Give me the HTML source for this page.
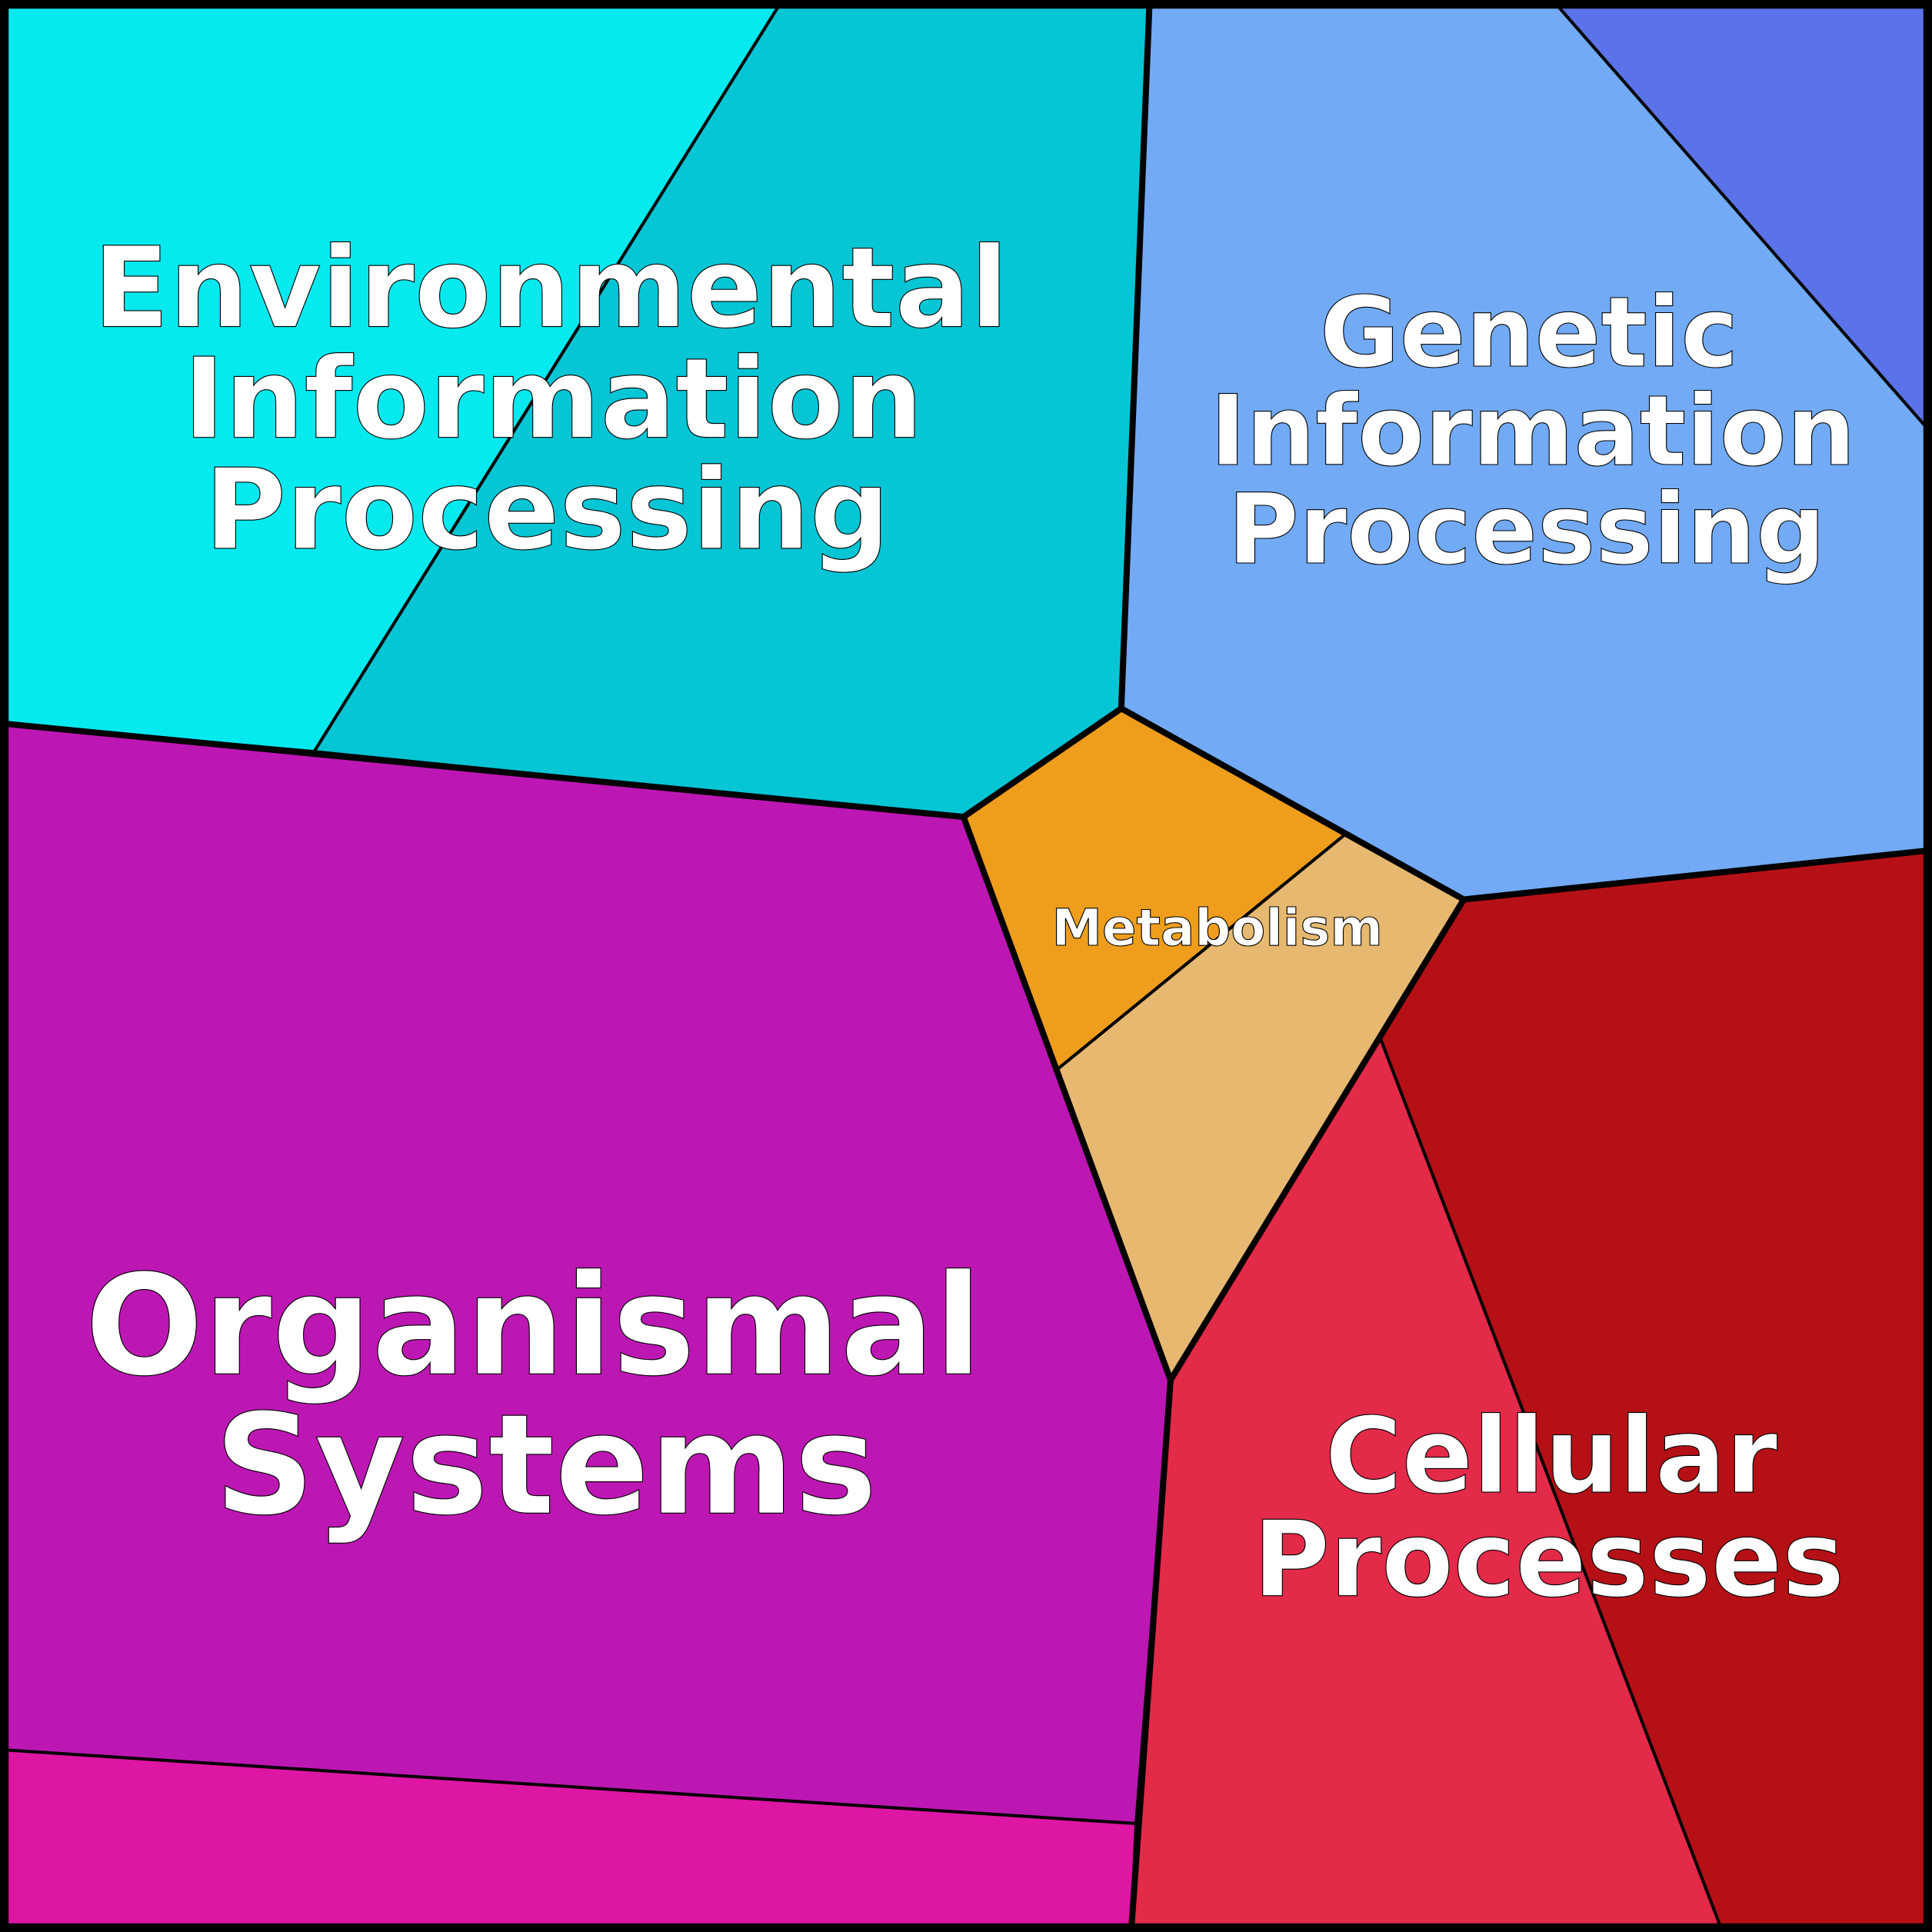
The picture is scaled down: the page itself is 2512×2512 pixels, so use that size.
<!DOCTYPE html>
<html><head><style>html,body{margin:0;padding:0;background:#000}svg{display:block}</style></head>
<body>
<svg width="2512" height="2512" viewBox="0 0 1568 1568" xmlns="http://www.w3.org/2000/svg">
<g stroke="#000" stroke-width="2.5" stroke-linejoin="round">
<polygon fill="#06E9EE" points="0,0 635,0 255,610 0,587"/>
<polygon fill="#06C5D4" points="635,0 933,0 910,575 782,663 255,610"/>
<polygon fill="#72AAF5" points="933,0 1260,0 1568,352 1568,690 1188,730 910,575"/>
<polygon fill="#5B73E8" points="1260,0 1568,0 1568,352"/>
<polygon fill="#EE9E1C" points="910,575 1092,677 858,868 782,663"/>
<polygon fill="#E6B870" points="1092,677 1188,730 950,1120 858,868"/>
<polygon fill="#B51016" points="1188,730 1568,690 1568,1568 1398,1568 1120,842"/>
<polygon fill="#E32A48" points="1120,842 1398,1568 918,1568 950,1120"/>
<polygon fill="#BD17B3" points="0,587 782,663 950,1120 922,1480 0,1420"/>
<polygon fill="#DD16A4" points="0,1420 922,1480 918,1568 0,1568"/>
</g>
<g fill="none" stroke="#000" stroke-width="5" stroke-linejoin="round">
<polyline points="0,587 782,663 910,575 933,0"/>
<polyline points="910,575 1188,730 1568,690"/>
<polyline points="782,663 950,1120 1188,730"/>
<polyline points="950,1120 918,1568"/>
<rect x="3" y="3" width="1562" height="1562" stroke-width="8"/>
</g>
<g font-family="'DejaVu Sans','Liberation Sans',sans-serif" font-weight="bold" fill="#fff" stroke="#000" stroke-width="0.7" text-anchor="middle">
<text font-size="90.5" x="447" y="265">Environmental</text>
<text font-size="90.5" x="449" y="355">Information</text>
<text font-size="90.5" x="444" y="445">Processing</text>
<text font-size="79" x="1241" y="297">Genetic</text>
<text font-size="79" x="1244" y="377">Information</text>
<text font-size="79" x="1239" y="457">Processing</text>
<text font-size="113" x="433" y="1115">Organismal</text>
<text font-size="113" x="443" y="1228">Systems</text>
<text font-size="85" x="1259" y="1211">Cellular</text>
<text font-size="85" x="1257" y="1295">Processes</text>
<text font-size="41" x="988" y="767">Metabolism</text>
</g>
</svg>
</body></html>
